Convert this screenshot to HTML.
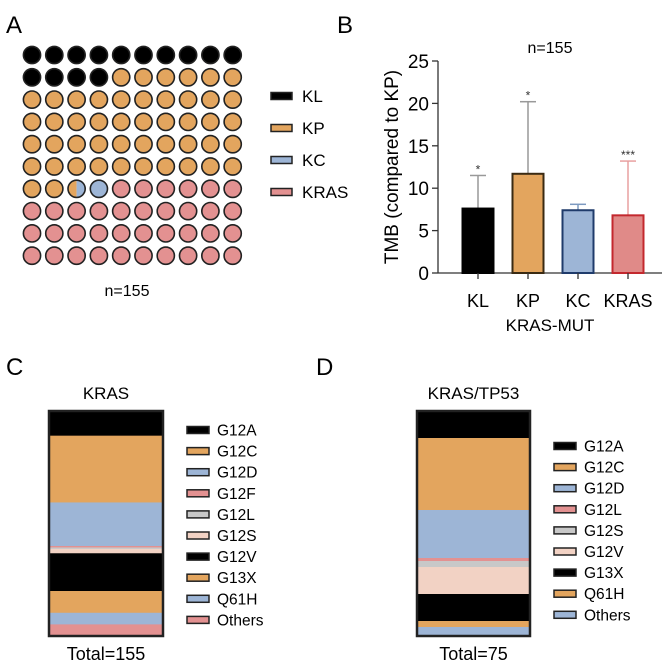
<!DOCTYPE html>
<html><head><meta charset="utf-8"><style>
body{margin:0;background:#fff;}
svg{display:block;font-family:"Liberation Sans",sans-serif;}
</style></head><body>
<svg id="fig" width="662" height="670" viewBox="0 0 662 670">
<text x="6" y="33" font-size="24">A</text>
<text x="337" y="33" font-size="24">B</text>
<text x="6" y="375" font-size="24">C</text>
<text x="316" y="375" font-size="24">D</text>
<g id="pa"></g>
<g id="pb"></g>
<g id="pc"></g>
<g id="pd"></g>
</svg>
<script>
// Panel A data
const waffleGroups = ["KL","KP","KC","KRAS"];
const waffleCounts = [14, 48.5, 1.5, 36];
// Panel B data
const tmbCategories = ["KL","KP","KC","KRAS"];
const tmbMeans = [7.6, 11.7, 7.4, 6.8];
const tmbErrTops = [11.5, 20.2, 8.1, 13.2];
const tmbStars = ["*","*","","***"];
const tmbTicks = [0,5,10,15,20,25];
// Panel C data
const krasLabels = ["G12A","G12C","G12D","G12F","G12L","G12S","G12V","G13X","Q61H","Others"];
const krasCounts = [17,46,30,1,1,3,26,15,8,8];
// Panel D data
const tp53Labels = ["G12A","G12C","G12D","G12L","G12S","G12V","G13X","Q61H","Others"];
const tp53Counts = [9,24,16,1,2,9,9,2,3];

const NS="http://www.w3.org/2000/svg";
function mk(parent,tag,attrs,txt){const e=document.createElementNS(NS,tag);for(const k in attrs)e.setAttribute(k,attrs[k]);if(txt!==undefined)e.textContent=txt;parent.appendChild(e);return e;}
const colA={KL:"#000",KP:"#e3a55e",KC:"#9db5d6",KRAS:"#e39191"};

// Panel A
(function(){
 const g=document.getElementById('pa');
 const x0=32,y0=55,sp=22.3,r=8.6;
 let cum=[0];waffleCounts.forEach(c=>cum.push(cum[cum.length-1]+c));
 for(let i=0;i<100;i++){
  const cx=x0+(i%10)*sp, cy=y0+Math.floor(i/10)*sp;
  let parts=[];
  for(let k=0;k<waffleGroups.length;k++){
   const a=Math.max(cum[k],i),b=Math.min(cum[k+1],i+1);
   if(b>a)parts.push([waffleGroups[k],a-i,b-i]);
  }
  if(parts.length===1){
   const c=mk(g,'circle',{cx,cy,r,fill:colA[parts[0][0]],stroke:"#222","stroke-width":1.6});
   
   
  } else {
   const id='clip'+i;
   const cp=mk(g,'clipPath',{id});mk(cp,'circle',{cx,cy,r});
   parts.forEach(p=>{
    const rc=mk(g,'rect',{x:cx-r+p[1]*2*r,y:cy-r,width:(p[2]-p[1])*2*r,height:2*r,fill:colA[p[0]],'clip-path':'url(#'+id+')'});
    
    
   });
   const c=mk(g,'circle',{cx,cy,r,fill:"none",stroke:"#222","stroke-width":1.6});
   
   
  }
 }
 waffleGroups.forEach((n,k)=>{
  const y=96+k*32;
  const r=mk(g,'rect',{x:271,y:y-3.5,width:21,height:7,fill:colA[n],stroke:"#222","stroke-width":1.5});
  
  
  const t=mk(g,'text',{x:302,y:y+6,'font-size':17},n);
  
  
 });
 const t=mk(g,'text',{x:127,y:296,'font-size':16,'text-anchor':'middle'},"n=155");
 
 
})();

// Panel B
(function(){
 const g=document.getElementById('pb');
 const ax=438,y0=273,ppu=(273-61)/25;
 const yS=v=>y0-v*ppu;
 const xS=i=>478+i*50;
 const fills=["#000","#e3a55e","#9db5d6","#e08a88"];
 const strokes=["#000","#3a2a12","#1f3b6b","#c3282e"];
 const errC=["#999","#999","#7d9ac0","#e8a0a0"];
 const a=mk(g,'line',{x1:ax,y1:yS(25),x2:ax,y2:y0,stroke:"#333","stroke-width":1.3});
 
 const xa=mk(g,'line',{x1:ax,y1:y0,x2:662,y2:y0,stroke:"#333","stroke-width":1.3});
 
 tmbTicks.forEach(v=>{
  mk(g,'line',{x1:ax-6,y1:yS(v),x2:ax,y2:yS(v),stroke:"#333","stroke-width":1.3});
  const t=mk(g,'text',{x:ax-9,y:yS(v)+7,'font-size':19,'text-anchor':'end'},v);
  
 });
 tmbCategories.forEach((c,i)=>{
  const cx=xS(i),w=31;
  const e=mk(g,'line',{x1:cx,y1:yS(tmbErrTops[i]),x2:cx,y2:yS(tmbMeans[i]),stroke:errC[i],"stroke-width":1.5});
  
  mk(g,'line',{x1:cx-8,y1:yS(tmbErrTops[i]),x2:cx+8,y2:yS(tmbErrTops[i]),stroke:errC[i],"stroke-width":1.5});
  const b=mk(g,'rect',{x:cx-w/2,y:yS(tmbMeans[i]),width:w,height:y0-yS(tmbMeans[i]),fill:fills[i],stroke:strokes[i],"stroke-width":2});
  
  mk(g,'line',{x1:cx,y1:y0,x2:cx,y2:y0+6,stroke:"#333","stroke-width":1.3});
  const t=mk(g,'text',{x:cx,y:y0+34,'font-size':18,'text-anchor':'middle'},c);
  
  if(tmbStars[i]){const s=mk(g,'text',{x:cx,y:yS(tmbErrTops[i])-2,'font-size':12,'text-anchor':'middle',fill:"#333"},tmbStars[i]);
   }
 });
 const xt=mk(g,'text',{x:550,y:331,'font-size':17,'text-anchor':'middle'},"KRAS-MUT");
 
 const yt=mk(g,'text',{x:0,y:0,'font-size':19,'text-anchor':'middle',transform:'translate(398,167) rotate(-90)'},"TMB (compared to KP)");
 
 const tt=mk(g,'text',{x:550,y:53,'font-size':16,'text-anchor':'middle'},"n=155");
 
})();

// Panels C & D
const segColors={G12A:"#000",G12C:"#e3a55e",G12D:"#9db5d6",G12F:"#e39191",G12L:"#c8c8c8",G12S:"#f2d2c4",G12V:"#000",G13X:"#e3a55e",Q61H:"#9db5d6",Others:"#e39191"};
const segColorsD={G12A:"#000",G12C:"#e3a55e",G12D:"#9db5d6",G12L:"#e39191",G12S:"#c8c8c8",G12V:"#f2d2c4",G13X:"#000",Q61H:"#e3a55e",Others:"#9db5d6"};
function stacked(gid,labels,counts,cols,x,title,total,legX,legY){
 const g=document.getElementById(gid);
 const top=411,bot=636,w=(gid==='pc')?114:113;
 const sum=counts.reduce((a,b)=>a+b,0);
 const yS=v=>top+(v/sum)*(bot-top);
 let c=0;
 labels.forEach((l,i)=>{
  const r=mk(g,'rect',{x,y:yS(c),width:w,height:yS(c+counts[i])-yS(c)+0.3,fill:cols[l]});
  
  c+=counts[i];
 });
 const o=mk(g,'rect',{x,y:top,width:w,height:bot-top,fill:"none",stroke:"#222","stroke-width":2.5});
 
 labels.forEach((l,i)=>{
  const y=legY+i*21.1;
  const r=mk(g,'rect',{x:legX,y:y-3.5,width:22,height:7,fill:cols[l],stroke:"#222","stroke-width":1.5});
  
  const t=mk(g,'text',{x:legX+30,y:y+5.5,'font-size':15.5},l);
  
 });
 const t1=mk(g,'text',{x:x+w/2,y:399,'font-size':17,'text-anchor':'middle'},title);
 
 const t2=mk(g,'text',{x:x+w/2,y:660,'font-size':18,'text-anchor':'middle'},total);
 
}
stacked('pc',krasLabels,krasCounts,segColors,49,"KRAS","Total=155",187,430);
stacked('pd',tp53Labels,tp53Counts,segColorsD,417,"KRAS/TP53","Total=75",554,446);
</script>
</body></html>
